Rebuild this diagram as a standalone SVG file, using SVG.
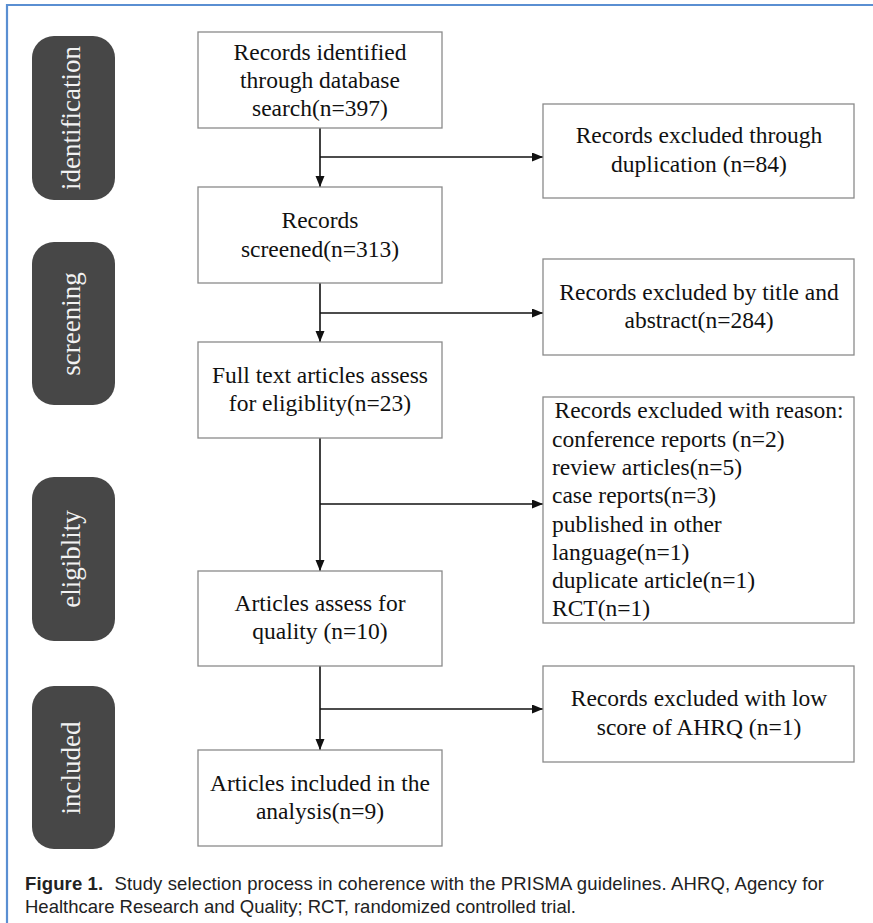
<svg xmlns="http://www.w3.org/2000/svg" width="873" height="923" viewBox="0 0 873 923">
<style>
.box{fill:#fff;stroke:#8a8a8a;stroke-width:1.3}
.pill{fill:#474747}
.t{font-family:"Liberation Serif","Times New Roman",serif;font-size:23.5px;fill:#111;text-anchor:middle}
.tl{font-family:"Liberation Serif","Times New Roman",serif;font-size:23.5px;fill:#111}
.side{font-family:"Liberation Serif","Times New Roman",serif;font-size:27px;fill:#f2f2f2;text-anchor:middle}
.c{stroke:#111;stroke-width:1.6;fill:none;marker-end:url(#ah)}
.cap{font-family:"Liberation Sans",Arial,sans-serif;font-size:18.5px;fill:#222}
</style>
<defs>
<marker id="ah" markerUnits="userSpaceOnUse" markerWidth="12" markerHeight="10" refX="11" refY="4.5" orient="auto">
<path d="M0,0 L11,4.5 L0,9 z" fill="#111"/>
</marker>
</defs>
<rect width="873" height="923" fill="#fff"/>
<g id="frame" stroke="#5a8fd2" stroke-width="2.2" fill="none">
<path d="M7,923 L7,5 L873,5"/>
</g>
<g id="stage-identification"><rect class="pill" x="32" y="36" width="83" height="164" rx="22"/><text class="side" transform="translate(80,118) rotate(-90)">identification</text></g>
<g id="stage-screening"><rect class="pill" x="32" y="242" width="83" height="163" rx="22"/><text class="side" transform="translate(80,324) rotate(-90)">screening</text></g>
<g id="stage-eligiblity"><rect class="pill" x="32" y="477" width="83" height="164" rx="22"/><text class="side" transform="translate(80,559) rotate(-90)">eligiblity</text></g>
<g id="stage-included"><rect class="pill" x="32" y="686" width="83" height="163" rx="22"/><text class="side" transform="translate(80,768) rotate(-90)">included</text></g>

<g id="connectors">
<line class="c" x1="320" y1="128" x2="320" y2="187"/>
<line class="c" x1="320" y1="157" x2="543" y2="157"/>
<line class="c" x1="320" y1="283" x2="320" y2="342"/>
<line class="c" x1="320" y1="313" x2="543" y2="313"/>
<line class="c" x1="320" y1="438" x2="320" y2="571"/>
<line class="c" x1="320" y1="504" x2="543" y2="504"/>
<line class="c" x1="320" y1="666" x2="320" y2="750"/>
<line class="c" x1="320" y1="709" x2="543" y2="709"/>
</g>

<g id="n1"><rect class="box" x="198" y="32" width="244" height="96"/>
<text class="t" x="320" y="60">Records identified</text>
<text class="t" x="320" y="88">through database</text>
<text class="t" x="320" y="116">search(n=397)</text></g>
<g id="n2"><rect class="box" x="198" y="187" width="244" height="96"/>
<text class="t" x="320" y="228">Records</text>
<text class="t" x="320" y="257">screened(n=313)</text></g>
<g id="n3"><rect class="box" x="198" y="342" width="244" height="96"/>
<text class="t" x="320" y="383">Full text articles assess</text>
<text class="t" x="320" y="411">for eligiblity(n=23)</text></g>
<g id="n4"><rect class="box" x="198" y="571" width="244" height="95"/>
<text class="t" x="320" y="611">Articles assess for</text>
<text class="t" x="320" y="639">quality (n=10)</text></g>
<g id="n5"><rect class="box" x="198" y="750" width="244" height="96"/>
<text class="t" x="320" y="791">Articles included in the</text>
<text class="t" x="320" y="819">analysis(n=9)</text></g>

<g id="r1"><rect class="box" x="543" y="104" width="311" height="94"/>
<text class="t" x="699" y="143">Records excluded through</text>
<text class="t" x="699" y="172">duplication (n=84)</text></g>
<g id="r2"><rect class="box" x="543" y="259" width="311" height="96"/>
<text class="t" x="699" y="300">Records excluded by title and</text>
<text class="t" x="699" y="328">abstract(n=284)</text></g>
<g id="r3"><rect class="box" x="543" y="397" width="311" height="226"/>
<text class="t" x="699" y="418">Records excluded with reason:</text>
<text class="tl" x="552" y="446.5">conference reports (n=2)</text>
<text class="tl" x="552" y="475">review articles(n=5)</text>
<text class="tl" x="552" y="503">case reports(n=3)</text>
<text class="tl" x="552" y="531.5">published in other</text>
<text class="tl" x="552" y="560">language(n=1)</text>
<text class="tl" x="552" y="588">duplicate article(n=1)</text>
<text class="tl" x="552" y="616">RCT(n=1)</text></g>
<g id="r4"><rect class="box" x="543" y="666" width="311" height="96"/>
<text class="t" x="699" y="706">Records excluded with low</text>
<text class="t" x="699" y="735">score of AHRQ (n=1)</text></g>

<g id="caption">
<text class="cap" x="25" y="890" textLength="799" lengthAdjust="spacing"><tspan font-weight="bold">Figure 1.</tspan><tspan dx="6"> Study selection process in coherence with the PRISMA guidelines. AHRQ, Agency for</tspan></text>
<text class="cap" x="25" y="913" textLength="551" lengthAdjust="spacing">Healthcare Research and Quality; RCT, randomized controlled trial.</text>
</g>
</svg>
